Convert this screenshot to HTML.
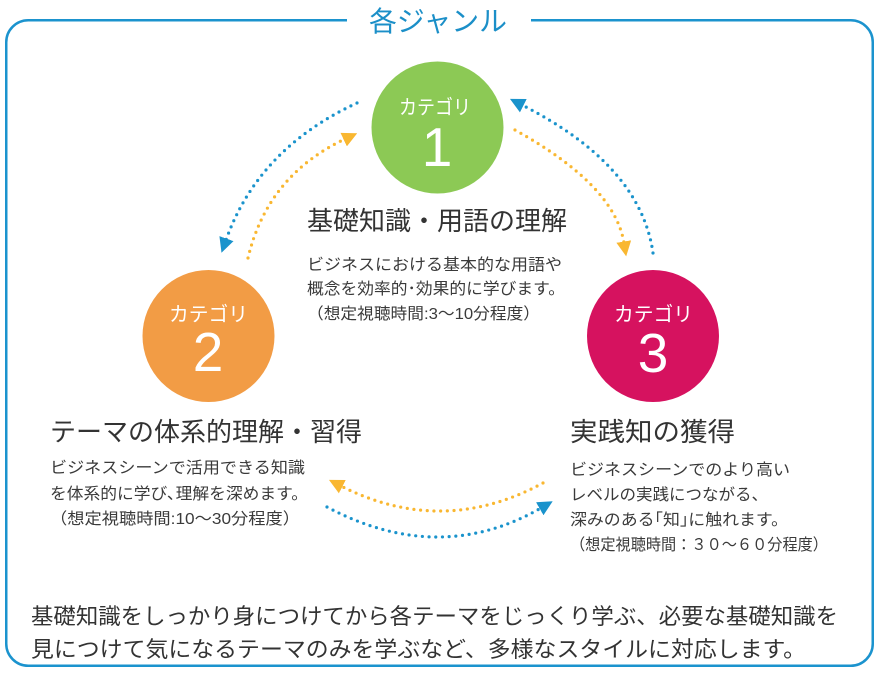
<!DOCTYPE html>
<html>
<head>
<meta charset="utf-8">
<style>
  html,body{margin:0;padding:0;background:#fff;}
  body{width:880px;height:674px;overflow:hidden;}
  svg{display:block;}
  .jp{font-family:"Liberation Sans","Noto Sans CJK JP",sans-serif;}
  .h{fill:#333333;font-size:26px;}
  .d{fill:#3a3a3a;font-size:16px;}
  .b{fill:#333333;font-size:22px;}
  .cat{fill:#ffffff;font-size:20px;}
  .num{fill:#ffffff;font-size:55px;font-family:"Liberation Sans","DejaVu Sans",sans-serif;}
</style>
</head>
<body>
<svg width="880" height="674" viewBox="0 0 880 674" xmlns="http://www.w3.org/2000/svg">
  <defs>
    <marker id="mb" viewBox="0 0 10 10" refX="1" refY="5" markerWidth="15" markerHeight="15" markerUnits="userSpaceOnUse" orient="auto">
      <path d="M0,0 L10,5 L0,10 z" fill="#1a93cc"/>
    </marker>
    <marker id="my" viewBox="0 0 10 10" refX="1" refY="5" markerWidth="15" markerHeight="15" markerUnits="userSpaceOnUse" orient="auto">
      <path d="M0,0 L10,5 L0,10 z" fill="#f9b731"/>
    </marker>
  </defs>

  <!-- frame -->
  <rect x="6.25" y="20.25" width="866.5" height="645.5" rx="22" ry="22" fill="none" stroke="#1b93ce" stroke-width="2.5"/>
  <rect x="347" y="10" width="184" height="20" fill="#ffffff"/>
  <text class="jp" x="369" y="31" font-size="28" fill="#1b8fc8" textLength="138" lengthAdjust="spacingAndGlyphs">各ジャンル</text>

  <!-- circles -->
  <circle cx="437.5" cy="127.5" r="66" fill="#8cc955"/>
  <circle cx="208.5" cy="336" r="66" fill="#f29c45"/>
  <circle cx="653" cy="336" r="66" fill="#d6125f"/>

  <text class="jp cat" x="399" y="114" textLength="72" lengthAdjust="spacingAndGlyphs">カテゴリ</text>
  <text class="num" x="437" y="166" text-anchor="middle">1</text>

  <text class="jp cat" x="169" y="321" textLength="79" lengthAdjust="spacingAndGlyphs">カテゴリ</text>
  <text class="num" x="208" y="371" text-anchor="middle">2</text>

  <text class="jp cat" x="614" y="321" textLength="79" lengthAdjust="spacingAndGlyphs">カテゴリ</text>
  <text class="num" x="653" y="372" text-anchor="middle">3</text>

  <!-- connectors -->
  <g fill="none" stroke-width="3.2" stroke-linecap="round" stroke-dasharray="0 6.7">
    <path d="M357,103 Q258.5,148.5 226,240" stroke="#1a93cc" marker-end="url(#mb)"/>
    <path d="M248,258 Q267.5,175.5 345,139" stroke="#f9b731" marker-end="url(#my)"/>
    <path d="M515,130 Q614.5,185 624,243" stroke="#f9b731" marker-end="url(#my)"/>
    <path d="M653,253 Q640.5,165 522,105" stroke="#1a93cc" marker-end="url(#mb)"/>
    <path d="M543,483 Q442.5,537.5 341,486" stroke="#f9b731" marker-end="url(#my)"/>
    <path d="M327,507 Q439,566.5 541,508" stroke="#1a93cc" marker-end="url(#mb)"/>
  </g>

  <!-- category 1 text -->
  <text class="jp h" x="307" y="230" textLength="260" lengthAdjust="spacingAndGlyphs">基礎知識・用語の理解</text>
  <text class="jp d" x="307" y="270" textLength="255" lengthAdjust="spacingAndGlyphs">ビジネスにおける基本的な用語や</text>
  <text class="jp d" x="307" y="294" textLength="258" lengthAdjust="spacingAndGlyphs">概念を効率的･効果的に学びます。</text>
  <text class="jp d" x="307" y="319" textLength="233" lengthAdjust="spacingAndGlyphs">（想定視聴時間:3～10分程度）</text>

  <!-- category 2 text -->
  <text class="jp h" x="50" y="441" textLength="312" lengthAdjust="spacingAndGlyphs">テーマの体系的理解・習得</text>
  <text class="jp d" x="50" y="473" textLength="255" lengthAdjust="spacingAndGlyphs">ビジネスシーンで活用できる知識</text>
  <text class="jp d" x="50" y="499" textLength="258" lengthAdjust="spacingAndGlyphs">を体系的に学び､理解を深めます。</text>
  <text class="jp d" x="50" y="524" textLength="250" lengthAdjust="spacingAndGlyphs">（想定視聴時間:10～30分程度）</text>

  <!-- category 3 text -->
  <text class="jp h" x="570" y="441" textLength="165" lengthAdjust="spacingAndGlyphs">実践知の獲得</text>
  <text class="jp d" x="570" y="475" textLength="220" lengthAdjust="spacingAndGlyphs">ビジネスシーンでのより高い</text>
  <text class="jp d" x="570" y="500" textLength="198" lengthAdjust="spacingAndGlyphs">レベルの実践につながる、</text>
  <text class="jp d" x="570" y="525" textLength="218" lengthAdjust="spacingAndGlyphs">深みのある｢知｣に触れます。</text>
  <text class="jp d" x="570" y="550" textLength="258" lengthAdjust="spacingAndGlyphs">（想定視聴時間：３０～６０分程度）</text>

  <!-- bottom paragraph -->
  <text class="jp b" x="31" y="624" textLength="807" lengthAdjust="spacingAndGlyphs">基礎知識をしっかり身につけてから各テーマをじっくり学ぶ、必要な基礎知識を</text>
  <text class="jp b" x="31" y="657" textLength="775" lengthAdjust="spacingAndGlyphs">見につけて気になるテーマのみを学ぶなど、多様なスタイルに対応します。</text>
</svg>
</body>
</html>
